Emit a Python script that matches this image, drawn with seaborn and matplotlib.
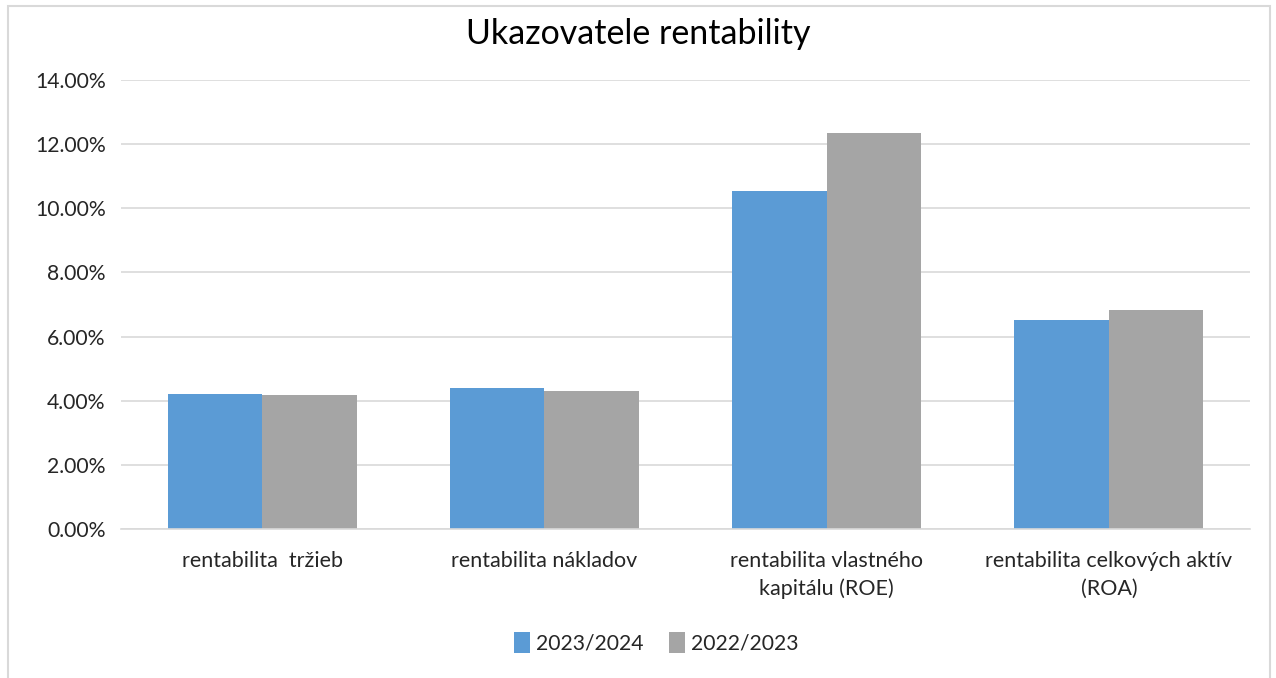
import pandas as pd
import matplotlib.pyplot as plt
import seaborn as sns
from matplotlib.patches import Rectangle

categories = ["rentabilita  tržieb", "rentabilita nákladov",
              "rentabilita vlastného\nkapitálu (ROE)",
              "rentabilita celkových aktív\n(ROA)"]
years = ["2023/2024", "2022/2023"]
vals_2324 = [4.20, 4.39, 10.55, 6.53]
vals_2223 = [4.17, 4.29, 12.35, 6.84]
colors = ["#5B9BD5", "#A5A5A5"]

df = pd.DataFrame({
    "kat": categories * 2,
    "rok": [years[0]] * 4 + [years[1]] * 4,
    "hodnota": vals_2324 + vals_2223,
})

sns.set_theme(style="white")
plt.rcParams["font.family"] = ["Lato", "DejaVu Sans"]

fig = plt.figure(figsize=(12.76, 6.78), dpi=100)
ax = fig.add_axes([121 / 1276, 1 - 529 / 678, 1129 / 1276, 449 / 678])

sns.barplot(data=df, x="kat", y="hodnota", hue="rok", palette=colors,
            width=0.67, saturation=1, linewidth=0, ax=ax, legend=True)

ax.set_ylim(0, 14)
ax.set_yticks(range(0, 15, 2))
ax.set_yticklabels([f"{v:.2f}%" for v in range(0, 15, 2)])
ax.yaxis.grid(True, color="#d9d9d9", linewidth=1.2)
ax.set_axisbelow(True)
for s in ["top", "right", "left"]:
    ax.spines[s].set_visible(False)
ax.spines["bottom"].set_color("#d9d9d9")
ax.spines["bottom"].set_linewidth(1.2)
ax.tick_params(axis="x", length=0, labelsize=15.5, colors="#262626", pad=16)
ax.tick_params(axis="y", length=0, labelsize=15.2, colors="#262626", pad=11)
for lbl in ax.get_xticklabels():
    lbl.set_linespacing(1.45)
ax.set_xlabel("")
ax.set_ylabel("")

fig.text(0.5, 1 - 34 / 678, "Ukazovatele rentability", ha="center", va="center",
         fontsize=24.5, color="#000000")

handles, labels = ax.get_legend_handles_labels()
ax.legend(handles, labels, loc="center", bbox_to_anchor=(0.5 + 18 / 1276, 1 - 643 / 678),
          bbox_transform=fig.transFigure, ncol=2, frameon=False, fontsize=15.2,
          handlelength=0.75, handleheight=1.1, handletextpad=0.3, columnspacing=1.2,
          labelcolor="#262626")

fig.patches.append(Rectangle((8 / 1276, -0.01), 1262 / 1276, 1 - 6 / 678 + 0.01,
                             transform=fig.transFigure, fill=False,
                             edgecolor="#d9d9d9", linewidth=1.5))

fig.savefig("out.png", dpi=100, facecolor="white")
